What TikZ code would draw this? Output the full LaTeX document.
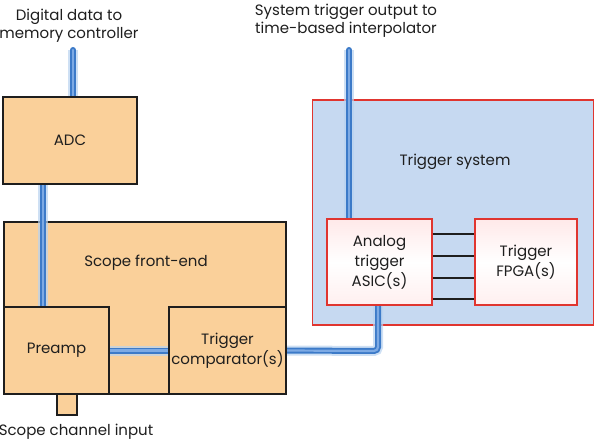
\documentclass[tikz,border=0pt]{standalone}
\usepackage{fontspec}
\setmainfont{Poppins}
\usetikzlibrary{backgrounds}
\definecolor{peach}{HTML}{FAD09A}
\definecolor{skyfill}{HTML}{C6D9F1}
\definecolor{redline}{HTML}{E0352F}
\definecolor{busdark}{HTML}{3C7AC8}
\definecolor{buslight}{HTML}{7DAAE4}
\definecolor{busglow}{HTML}{B9D3F0}
\definecolor{ink}{HTML}{1E1E1E}

\begin{document}
\begin{tikzpicture}[x=1pt, y=-1pt, text=ink,
    font=\fontsize{15}{18}\selectfont,
    fe/.style={draw=ink, line width=1.3pt, fill=peach, inner sep=0pt, align=center,
        font=\fontsize{15}{20}\selectfont},
    trig/.style={draw=redline, line width=1.6pt, inner sep=0pt},
    chip/.style={trig, top color=pink!35, bottom color=pink!25, middle color=white, align=center,
        font=\fontsize{15}{20}\selectfont},
    bus/.style={line width=6pt, draw=busdark, line cap=round, rounded corners=4pt,
        preaction={draw=busglow, line width=10pt, opacity=0.7},
        postaction={draw=buslight, line width=2.2pt}}]

    \useasboundingbox (0,0) rectangle (595,444);

    \begin{pgfonlayer}{background}
    \draw(145,308) node[fe, minimum width=282pt, minimum height=172pt] (front) {};
    \draw(453,212.5) node[trig, fill=skyfill, minimum width=281pt, minimum height=225pt] (trigsys) {};
    \end{pgfonlayer}

    \draw(70,140.5) node[fe, minimum width=134pt, minimum height=87pt] (adc) {ADC};
    \draw(56.5,350.5) node[fe, minimum width=105pt, minimum height=87pt] (preamp) {Preamp};
    \draw(227.5,350.5) node[fe, minimum width=117pt, minimum height=87pt] (comp) {Trigger\\comparator(s)};
    \draw(67,404.5) node[fe, minimum width=20pt, minimum height=21pt] (stub) {};

    \draw(379.5,262) node[chip, minimum width=105pt, minimum height=86pt] (asic) {Analog\\trigger\\ASIC(s)};
    \draw(526,262) node[chip, minimum width=102pt, minimum height=86pt] (fpga) {Trigger\\FPGA(s)};

    \draw(146,263) node (frontlbl) {Scope front-end};
    \draw(455,162) node (triglbl) {Trigger system};
    \draw(69,26) node[align=center] (memlbl) {Digital data to\\memory controller};
    \draw(346,21) node[align=center] (interplbl) {System trigger output to\\time-based interpolator};
    \draw(76,432) node (inlbl) {Scope channel input};

    \coordinate (memend) at (73,50);
    \coordinate (interpend) at (349,50);
    \coordinate (bend) at (378,351);

    % buses
    \begin{pgfonlayer}{background}
    \draw[bus] (memend) -- (memend |- adc.north);
    \draw[bus] (adc.south -| 43,0) -- (preamp.north -| 43,0);
    \draw[bus] (preamp.east) -- (comp.west);
    \draw[bus] (comp.east) -- (bend) -- (bend |- asic.south);
    \draw[bus] (interpend) -- (interpend |- asic.north);
    \end{pgfonlayer}

    \foreach \yy in {234,256,278,299}
        \draw[ink, line width=1.3pt] (asic.east |- 0,\yy) -- (fpga.west |- 0,\yy);

\end{tikzpicture}
\end{document}
